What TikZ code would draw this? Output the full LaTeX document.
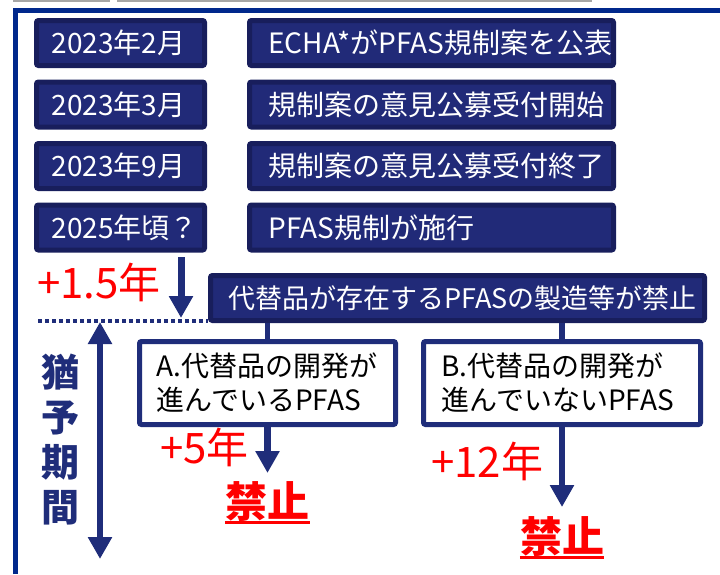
\documentclass[tikz,border=0pt]{standalone}
\usepackage{fontspec}
\setmainfont{Noto Sans CJK JP}
\usetikzlibrary{arrows.meta}
\definecolor{boxfill}{RGB}{33,42,120}
\definecolor{boxedge}{RGB}{24,30,92}
\definecolor{navy}{RGB}{31,45,122}
\definecolor{frameblue}{RGB}{0,40,140}
\definecolor{jpred}{RGB}{255,0,0}
\tikzset{
  dbox/.style={draw=boxedge, fill=boxfill, line width=5pt, rounded corners=2pt,
    text=white, font=\fontsize{28}{33}\selectfont, minimum height=45pt,
    align=left, inner ysep=0pt},
  wbox/.style={draw=navy, fill=white, line width=5pt, rounded corners=2pt,
    text=black, font=\fontsize{28}{34}\selectfont, minimum height=83pt,
    align=left, inner ysep=0pt},
  arr/.style={navy, line width=#1, -{Triangle[width=23pt,length=22pt]}},
  darr/.style={navy, line width=6pt, {Triangle[width=23pt,length=22pt]}-{Triangle[width=23pt,length=22pt]}},
  conn/.style={navy, line width=5.5pt},
  dotline/.style={navy, line width=3.5pt, dash pattern=on 3.5pt off 3.5pt},
  redlbl/.style={text=jpred, font=\fontsize{42}{44}\selectfont, inner sep=0pt},
  ban/.style={text=jpred, font=\bfseries\fontsize{42}{44}\selectfont, inner sep=0pt},
  uline/.style={jpred, line width=2.5pt},
}
\begin{document}
\begin{tikzpicture}[x=1pt,y=-1pt]
\useasboundingbox (0,0) rectangle (720,574);
% frame
\draw[gray!70, line width=1.5pt] (13,0.8) -- (110,0.8);
\draw[gray!70, line width=1.5pt] (117,0.8) -- (592,0.8);
\draw[frameblue, line width=5pt, line join=miter] (15,574) -- (15,10) -- (720,10);
% timeline rows
\node[dbox, inner xsep=15pt, text width=138pt] (d1) at (120.5,43) {2023年2月};
\node[dbox, inner xsep=19pt, text width=326pt] (e1) at (431.5,43) {ECHA*がPFAS規制案を公表};
\node[dbox, inner xsep=15pt, text width=138pt] (d2) at (120.5,104.5) {2023年3月};
\node[dbox, inner xsep=19pt, text width=326pt] (e2) at (431.5,104.5) {規制案の意見公募受付開始};
\node[dbox, inner xsep=15pt, text width=138pt] (d3) at (120.5,166) {2023年9月};
\node[dbox, inner xsep=19pt, text width=326pt] (e3) at (431.5,166) {規制案の意見公募受付終了};
\node[dbox, inner xsep=15pt, text width=138pt] (d4) at (120.5,227.5) {2025年頃？};
\node[dbox, inner xsep=19pt, text width=326pt] (e4) at (431.5,227.5) {PFAS規制が施行};
% ban box
\node[dbox, inner xsep=18pt, text width=458pt, font=\fontsize{27}{32}\selectfont] (big) at (457.5,298) {代替品が存在するPFASの製造等が禁止};
% +1.5 arrow
\coordinate (s1) at (181,257);
\coordinate (t1) at (181,318);
\draw[arr=7pt] (s1) -- (t1);
\node[redlbl, anchor=base west] (p15) at (37,298) {+1.5年};
% dotted line
\coordinate (dl) at (38,321);
\draw[dotline] (dl) -- (big.west |- dl);
% grace period
\coordinate (gt) at (100,322);
\coordinate (gb) at (100,559);
\draw[darr] (gt) -- (gb);
\node[text=navy, font=\bfseries\fontsize{38}{45}\selectfont, align=center, inner sep=0pt] (grace) at (60.5,440) {猶\\予\\期\\間};
% A and B
\node[wbox, inner xsep=17pt, text width=222pt] (A) at (267.5,383) {A.代替品の開発が\\進んでいるPFAS};
\node[wbox, inner xsep=18pt, text width=241pt] (B) at (562,383) {B.代替品の開発が\\進んでいないPFAS};
\draw[conn] (big.south -| A.north) -- (A.north);
\draw[conn] (big.south -| B.north) -- (B.north);
\coordinate (ta) at (267.5,473);
\coordinate (tb) at (562,507);
\draw[arr=6.5pt] (A.south) -- (ta);
\draw[arr=6pt] (B.south) -- (tb);
\node[redlbl, anchor=base west] (p5) at (160,463) {+5年};
\node[redlbl, anchor=base west] (p12) at (431,477) {+12年};
\node[ban, anchor=base] (banA) at (267.5,517) {禁止};
\node[ban, anchor=base] (banB) at (562,552) {禁止};
\draw[uline] ([yshift=-1.5pt]banA.south west) -- ([yshift=-1.5pt]banA.south east);
\draw[uline] ([yshift=-1.5pt]banB.south west) -- ([yshift=-1.5pt]banB.south east);
\end{tikzpicture}
\end{document}
